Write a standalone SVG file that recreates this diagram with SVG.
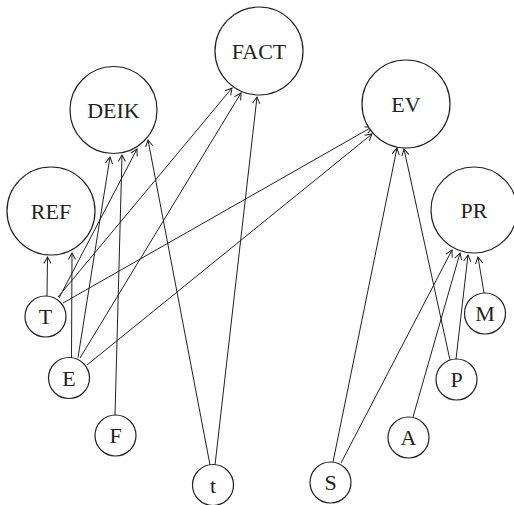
<svg xmlns="http://www.w3.org/2000/svg" width="514" height="505" viewBox="0 0 514 505">
  <style>
    .node circle { fill: #fff; stroke: #231f20; stroke-width: 1.2; }
    .node text { font-family: "Liberation Serif", "DejaVu Serif", serif; font-size: 22px; fill: #231f20; text-anchor: middle; }
    .edges line { stroke: #231f20; stroke-width: 1; marker-end: url(#arrow); }
  </style>
  <defs>
    <marker id="arrow" markerUnits="userSpaceOnUse" markerWidth="12" markerHeight="12" refX="0" refY="0" viewBox="-8 -6 10 12" orient="auto">
      <path d="M-6.5,-3.6 L0,0 L-6.5,3.6" fill="none" stroke="#231f20" stroke-width="1"/>
    </marker>
  </defs>

  <!-- connectors -->
  <g id="edges" class="edges">
    <line x1="47" y1="296" x2="47.5" y2="257"/>
    <line x1="71.5" y1="358" x2="72" y2="253"/>
    <line x1="59" y1="298" x2="137" y2="149"/>
    <line x1="78" y1="357.5" x2="110" y2="157"/>
    <line x1="115" y1="415" x2="122" y2="155"/>
    <line x1="210" y1="465" x2="148" y2="140"/>
    <line x1="58" y1="297" x2="232" y2="88"/>
    <line x1="80" y1="358" x2="241" y2="93"/>
    <line x1="215" y1="465" x2="257" y2="97"/>
    <line x1="63" y1="303" x2="372" y2="127"/>
    <line x1="87" y1="365" x2="372" y2="134"/>
    <line x1="333" y1="462" x2="397" y2="148"/>
    <line x1="450" y1="360" x2="404" y2="149"/>
    <line x1="341" y1="463" x2="452" y2="250"/>
    <line x1="413" y1="417" x2="460" y2="253"/>
    <line x1="456" y1="359" x2="468" y2="255"/>
    <line x1="484" y1="293" x2="478" y2="257"/>
  </g>

  <!-- large nodes -->
  <g id="node-fact" class="node"><circle cx="259" cy="51" r="44"/><text x="259" y="58.5">FACT</text></g>
  <g id="node-deik" class="node"><circle cx="113.5" cy="110" r="43.5"/><text x="113.5" y="117.5">DEIK</text></g>
  <g id="node-ev" class="node"><circle cx="406" cy="104" r="44"/><text x="406" y="111.5">EV</text></g>
  <g id="node-ref" class="node"><circle cx="51" cy="211" r="44"/><text x="51" y="218.5">REF</text></g>
  <g id="node-pr" class="node"><circle cx="474" cy="210" r="43"/><text x="474" y="217.5">PR</text></g>

  <!-- small nodes -->
  <g id="node-T" class="node"><circle cx="45.5" cy="316.5" r="20.5"/><text x="45.5" y="324">T</text></g>
  <g id="node-E" class="node"><circle cx="69" cy="378" r="20.5"/><text x="69" y="385.5">E</text></g>
  <g id="node-F" class="node"><circle cx="115.5" cy="435.5" r="20.5"/><text x="115.5" y="443">F</text></g>
  <g id="node-t" class="node"><circle cx="213" cy="485" r="20.5"/><text x="213" y="492.5">t</text></g>
  <g id="node-S" class="node"><circle cx="330.5" cy="482.5" r="20.5"/><text x="330.5" y="490">S</text></g>
  <g id="node-A" class="node"><circle cx="408.5" cy="437.5" r="20.5"/><text x="408.5" y="445">A</text></g>
  <g id="node-P" class="node"><circle cx="456.5" cy="379.5" r="20.5"/><text x="456.5" y="387">P</text></g>
  <g id="node-M" class="node"><circle cx="485" cy="313.5" r="20.5"/><text x="485" y="321">M</text></g>
</svg>
